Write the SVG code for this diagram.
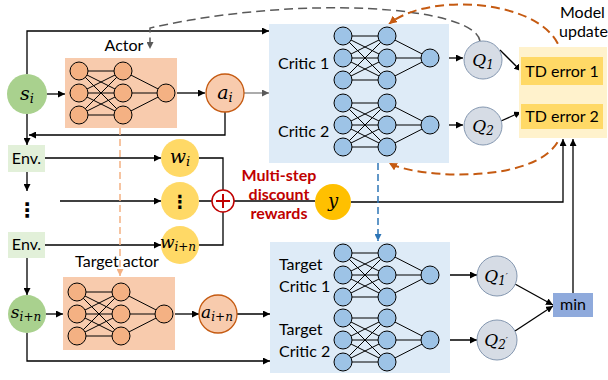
<svg xmlns="http://www.w3.org/2000/svg" xmlns:xlink="http://www.w3.org/1999/xlink" width="608" height="380" viewBox="0 0 608 380">
<style>
.t{font-family:Lato,"Liberation Sans",sans-serif;font-size:16px;fill:#000}
.m{font-family:"DejaVu Serif","Liberation Serif",serif;font-style:italic;fill:#000}
.red{font-family:Lato,"Liberation Sans",sans-serif;font-size:16px;font-weight:bold;fill:#c00000}
.ln{fill:none;stroke:#000;stroke-width:1.3}
.lg{fill:none;stroke:#7f7f7f;stroke-width:1.3}
.nl{stroke:#000;stroke-width:1}
.nc{stroke:#000;stroke-width:1}
</style>
<defs>
<marker id="ab" viewBox="0 0 10 10" refX="10" refY="5" markerWidth="7" markerHeight="7" markerUnits="userSpaceOnUse" orient="auto"><path d="M0,0 L10,5 L0,10 z" fill="#000"/></marker>
<marker id="ag" viewBox="0 0 10 10" refX="10" refY="5" markerWidth="7" markerHeight="7" markerUnits="userSpaceOnUse" orient="auto"><path d="M0,0 L10,5 L0,10 z" fill="#595959"/></marker>
<marker id="ao" viewBox="0 0 10 10" refX="10" refY="5" markerWidth="8" markerHeight="8" markerUnits="userSpaceOnUse" orient="auto"><path d="M0,0 L10,5 L0,10 z" fill="#c55a11"/></marker>
<marker id="alo" viewBox="0 0 10 10" refX="10" refY="5" markerWidth="7" markerHeight="7" markerUnits="userSpaceOnUse" orient="auto"><path d="M0,0 L10,5 L0,10 z" fill="#f4b183"/></marker>
<marker id="abl" viewBox="0 0 10 10" refX="10" refY="5" markerWidth="7" markerHeight="7" markerUnits="userSpaceOnUse" orient="auto"><path d="M0,0 L10,5 L0,10 z" fill="#2e75b6"/></marker>
<g id="net">
<path class="nl" d="M0,0 L44,0 M0,0 L44,22 M0,0 L44,44 M0,22 L44,0 M0,22 L44,22 M0,22 L44,44 M0,44 L44,0 M0,44 L44,22 M0,44 L44,44 M44,0 L87,22 M44,22 L87,22 M44,44 L87,22"/>
<circle class="nc" cx="0" cy="0" r="9"/><circle class="nc" cx="0" cy="22" r="9"/><circle class="nc" cx="0" cy="44" r="9"/>
<circle class="nc" cx="44" cy="0" r="9"/><circle class="nc" cx="44" cy="22" r="9"/><circle class="nc" cx="44" cy="44" r="9"/>
<circle class="nc" cx="87" cy="22" r="9"/>
</g>
</defs>
<rect width="608" height="380" fill="#fff"/>

<g id="connectors">
<path class="ln" d="M27,74 V31 H269" marker-end="url(#ab)"/>
<path class="ln" d="M47,94 H65" marker-end="url(#ab)"/>
<path class="ln" d="M177,93 H205" marker-end="url(#ab)"/>
<path class="lg" d="M244,93 H269" marker-end="url(#ag)"/>
<path class="ln" d="M225,112 V135 H29" marker-end="url(#ab)"/>
<path class="ln" d="M27,114 V145" marker-end="url(#ab)"/>
<path class="ln" d="M45,158 H161" marker-end="url(#ab)"/>
<path class="ln" d="M27,172 V191" marker-end="url(#ab)"/>
<path class="ln" d="M60,201 H161" marker-end="url(#ab)"/>
<path class="ln" d="M45,245 H161" marker-end="url(#ab)"/>
<path class="ln" d="M27,258 V295" marker-end="url(#ab)"/>
<path class="ln" d="M199,158 H223 V245 H199 M199,201 H212"/>
<path class="ln" d="M234,201 H315"/>
<path class="ln" d="M351,202 H563 V139" marker-end="url(#ab)"/>
<path class="ln" d="M573,293 V139" marker-end="url(#ab)"/>
<path class="ln" d="M46,314 H63" marker-end="url(#ab)"/>
<path class="ln" d="M175,314 H199" marker-end="url(#ab)"/>
<path class="ln" d="M237,314 H270" marker-end="url(#ab)"/>
<path class="ln" d="M27,333 V361 H270" marker-end="url(#ab)"/>
<path class="ln" d="M442,58 H463" marker-end="url(#ab)"/>
<path class="ln" d="M442,125 H463" marker-end="url(#ab)"/>
<path class="ln" d="M500,50 L521,71" marker-end="url(#ab)"/>
<path class="ln" d="M501,121 L521,112" marker-end="url(#ab)"/>
<path class="ln" d="M443,275 H477" marker-end="url(#ab)"/>
<path class="ln" d="M443,340 H477" marker-end="url(#ab)"/>
<path class="ln" d="M515,284 L553,305" marker-end="url(#ab)"/>
<path class="ln" d="M515,331 L553,306" marker-end="url(#ab)"/>
<path fill="none" stroke="#595959" stroke-width="1.5" stroke-dasharray="9,5" d="M480,41 C474,6 300,-6 150,28 L150,49" marker-end="url(#ag)"/>
<path fill="none" stroke="#c55a11" stroke-width="2" stroke-dasharray="9,5" d="M562,57 C555,0 430,-10 389,24" marker-end="url(#ao)"/>
<path fill="none" stroke="#c55a11" stroke-width="2" stroke-dasharray="9,5" d="M562,129 C555,185 420,180 389,163" marker-end="url(#ao)"/>
<path fill="none" stroke="#f4b183" stroke-width="1.5" stroke-dasharray="7,4" d="M120,128 V276" marker-end="url(#alo)"/>
<path fill="none" stroke="#2e75b6" stroke-width="1.5" stroke-dasharray="7,4" d="M378,163 V241" marker-end="url(#abl)"/>
</g>

<g id="s_i"><circle cx="27" cy="94" r="20" fill="#a9d18e"/><text class="m" x="27" y="100" font-size="19" text-anchor="middle">s<tspan font-size="13" dy="3">i</tspan></text></g>
<g id="actor"><rect x="65" y="58" width="112" height="70" fill="#f8cbad"/><use href="#net" xlink:href="#net" x="79" y="71" fill="#f4b183"/><text class="t" x="124" y="51" text-anchor="middle">Actor</text></g>
<g id="a_i"><circle cx="225" cy="93" r="19" fill="#f8cbad" stroke="#c55a11" stroke-width="1.3"/><text class="m" x="225" y="99" font-size="19" text-anchor="middle">a<tspan font-size="13" dy="3">i</tspan></text></g>
<g id="env1"><rect x="8" y="145" width="37" height="27" fill="#e2f0d9"/><text class="t" x="26.5" y="164" font-size="15" text-anchor="middle">Env.</text></g>
<g id="dots"><text x="27" y="217" font-family="DejaVu Sans,sans-serif" font-size="20" font-weight="bold" text-anchor="middle">⋮</text></g>
<g id="env2"><rect x="8" y="232" width="37" height="26" fill="#e2f0d9"/><text class="t" x="26.5" y="250" font-size="15" text-anchor="middle">Env.</text></g>
<g id="w_i"><circle cx="180" cy="158" r="19" fill="#ffd966"/><text class="m" x="180" y="163" font-size="19" text-anchor="middle">w<tspan font-size="13" dy="3">i</tspan></text></g>
<g id="w_dots"><circle cx="180" cy="201" r="19" fill="#ffd966"/><text x="180" y="208" font-family="DejaVu Sans,sans-serif" font-size="18" font-weight="bold" text-anchor="middle">⋮</text></g>
<g id="w_in"><circle cx="180" cy="245" r="19" fill="#ffd966"/><text class="m" x="178" y="248" font-size="17" text-anchor="middle">w<tspan font-size="12" dy="3">i</tspan><tspan font-style="normal" font-size="12">+</tspan><tspan font-size="12">n</tspan></text></g>
<g id="sum"><circle cx="223" cy="201" r="11" fill="#fff" stroke="#c00000" stroke-width="1.5"/><path d="M223,194 V208 M216,201 H230" stroke="#c00000" stroke-width="2"/></g>
<g id="msdr"><text class="red" x="279" y="181" text-anchor="middle">Multi-step</text><text class="red" x="279" y="200" text-anchor="middle">discount</text><text class="red" x="279" y="219" text-anchor="middle">rewards</text></g>
<g id="y"><circle cx="333" cy="202" r="18" fill="#ffc000"/><text class="m" x="333" y="207" font-size="18" text-anchor="middle">y</text></g>
<g id="s_in"><circle cx="27" cy="314" r="19" fill="#a9d18e"/><text class="m" x="26" y="318" font-size="17" text-anchor="middle">s<tspan font-size="12" dy="3">i</tspan><tspan font-style="normal" font-size="12">+</tspan><tspan font-size="12">n</tspan></text></g>
<g id="target_actor"><rect x="63" y="277" width="112" height="73" fill="#f8cbad"/><use href="#net" xlink:href="#net" x="77" y="292" fill="#f4b183"/><text class="t" x="117" y="267" text-anchor="middle">Target actor</text></g>
<g id="a_in"><circle cx="218" cy="314" r="19" fill="#f8cbad" stroke="#c55a11" stroke-width="1.3"/><text class="m" x="217" y="318" font-size="17" text-anchor="middle">a<tspan font-size="12" dy="3">i</tspan><tspan font-style="normal" font-size="12">+</tspan><tspan font-size="12">n</tspan></text></g>
<g id="critic"><rect x="269" y="24" width="180" height="139" fill="#deebf7"/><use href="#net" xlink:href="#net" x="343" y="36" fill="#9dc3e6"/><use href="#net" xlink:href="#net" x="343" y="103" fill="#9dc3e6"/><text class="t" x="278" y="69">Critic 1</text><text class="t" x="278" y="137">Critic 2</text></g>
<g id="q1"><circle cx="483" cy="60" r="19" fill="#d6dce5" stroke="#8497b0" stroke-width="1"/><text class="m" x="483" y="66" font-size="17" text-anchor="middle">Q<tspan font-size="12" dy="3">1</tspan></text></g>
<g id="q2"><circle cx="483" cy="126" r="19" fill="#d6dce5" stroke="#8497b0" stroke-width="1"/><text class="m" x="483" y="132" font-size="17" text-anchor="middle">Q<tspan font-size="12" dy="3">2</tspan></text></g>
<g id="td"><rect x="519" y="47" width="88" height="91" fill="#fff2cc"/><rect x="521" y="57" width="82" height="28" fill="#ffd966"/><rect x="521" y="104" width="82" height="25" fill="#ffd966"/><text class="t" x="562" y="77" font-size="16.5" text-anchor="middle">TD error 1</text><text class="t" x="562" y="122" font-size="16.5" text-anchor="middle">TD error 2</text></g>
<g id="model_update"><text class="t" x="560" y="18" font-size="15.5">Model</text><text class="t" x="559" y="37" font-size="15.5">update</text></g>
<g id="target_critic"><rect x="270" y="242" width="180" height="131" fill="#deebf7"/><use href="#net" xlink:href="#net" x="343" y="253" fill="#9dc3e6"/><use href="#net" xlink:href="#net" x="343" y="318" fill="#9dc3e6"/><text class="t" x="279" y="270">Target</text><text class="t" x="279" y="292">Critic 1</text><text class="t" x="279" y="335">Target</text><text class="t" x="279" y="357">Critic 2</text></g>
<g id="q1p"><circle cx="497" cy="276" r="20" fill="#d6dce5" stroke="#8497b0" stroke-width="1"/><text class="m" x="496" y="282" font-size="17" text-anchor="middle">Q<tspan font-size="12" dy="3">1</tspan><tspan font-size="9" dy="-5">′</tspan></text></g>
<g id="q2p"><circle cx="497" cy="340" r="20" fill="#d6dce5" stroke="#8497b0" stroke-width="1"/><text class="m" x="496" y="346" font-size="17" text-anchor="middle">Q<tspan font-size="12" dy="3">2</tspan><tspan font-size="9" dy="-5">′</tspan></text></g>
<g id="min"><rect x="553" y="293" width="40" height="24" fill="#8faadc"/><text class="t" x="573" y="310" font-size="16" text-anchor="middle">min</text></g>
</svg>
